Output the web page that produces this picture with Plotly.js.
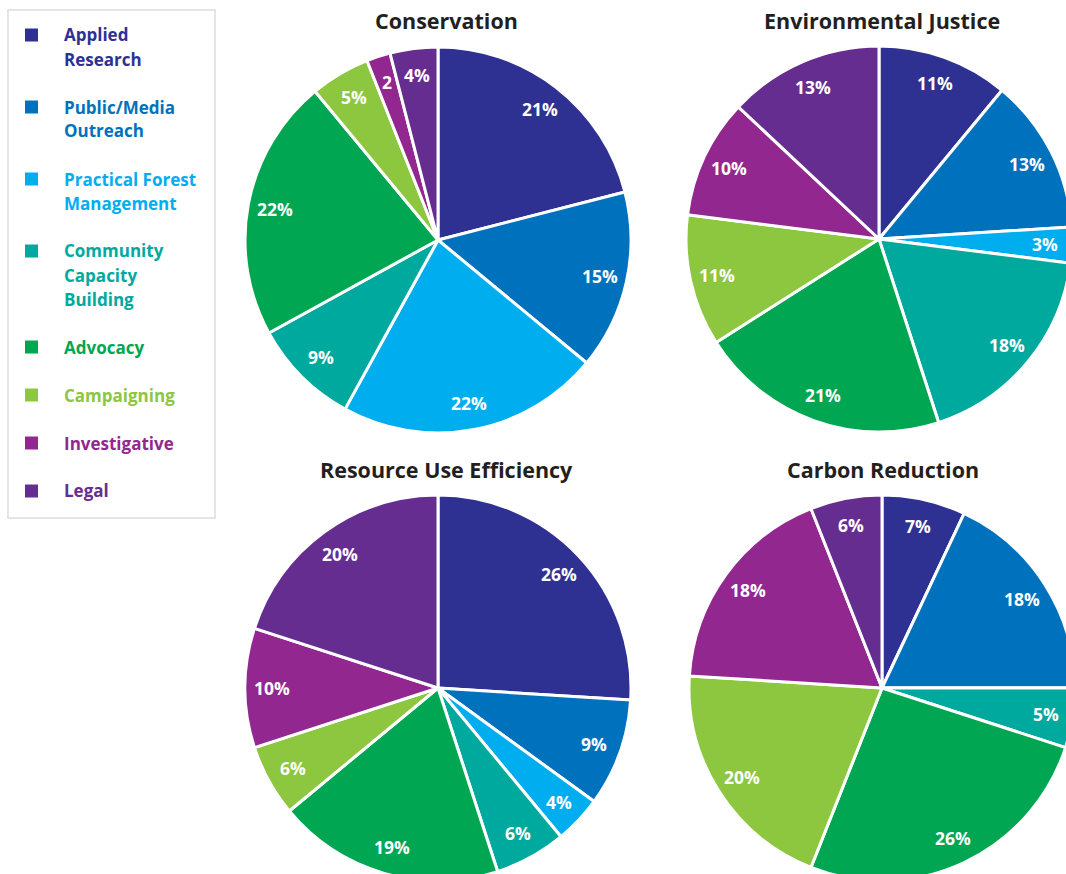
<!DOCTYPE html>
<html>
<head>
<meta charset="utf-8">
<script src="https://cdn.plot.ly/plotly-3.0.1.min.js"></script>
<style>
  html, body { margin: 0; padding: 0; overflow: hidden; background: #ffffff; }
  #chart { position: absolute; left: 0; top: 0; width: 1080px; height: 890px; }
</style>
</head>
<body>
<div id="chart"></div>
<script>
// Activity categories, in slice order (clockwise from 12 o'clock)
const categories = [
  "Applied Research",
  "Public/Media Outreach",
  "Practical Forest Management",
  "Community Capacity Building",
  "Advocacy",
  "Campaigning",
  "Investigative",
  "Legal"
];

// Legend wording, broken over lines
const legendLines = [
  ["Applied", "Research"],
  ["Public/Media", "Outreach"],
  ["Practical Forest", "Management"],
  ["Community", "Capacity", "Building"],
  ["Advocacy"],
  ["Campaigning"],
  ["Investigative"],
  ["Legal"]
];

const colors = [
  "#2e3192", "#0071bc", "#00aeef", "#00a99d",
  "#00a651", "#8dc63f", "#92278f", "#662d91"
];

// Share of work (%) per theme
const conservation          = [21, 15, 22, 9, 22, 5, 2, 4];
const environmentalJustice  = [11, 13, 3, 18, 21, 11, 10, 13];
const resourceUseEfficiency = [26, 9, 4, 6, 19, 6, 10, 20];
const carbonReduction       = [7, 18, 0, 5, 26, 20, 18, 6];

const themeTitles = ["Conservation", "Environmental Justice", "Resource Use Efficiency", "Carbon Reduction"];
const themeValues = [conservation, environmentalJustice, resourceUseEfficiency, carbonReduction];

// ---- layout geometry (pixels) ----
const W = 1080, H = 890;
const R = 193;
const pieCenters = [[438, 240], [879, 239], [438, 688], [882, 688]];
const titlePos = [[447, 20], [882, 20], [447, 469], [883, 469]];
const FONT = "'Open Sans', 'Noto Sans', sans-serif";

const fx = px => px / W;
const fy = py => 1 - py / H;

const data = [];
const annotations = [];
const shapes = [];

themeValues.forEach((vals, i) => {
  const [cx, cy] = pieCenters[i];
  data.push({
    type: "pie",
    name: themeTitles[i],
    labels: categories,
    values: vals,
    sort: false,
    direction: "clockwise",
    rotation: 0,
    textinfo: "none",
    hoverinfo: "label+percent",
    marker: { colors: colors, line: { color: "#ffffff", width: 3 } },
    domain: { x: [fx(cx - R), fx(cx + R)], y: [fy(cy + R), fy(cy - R)] },
    showlegend: false
  });

  // Percentage labels placed along each slice's mid-angle
  const total = vals.reduce((a, b) => a + b, 0);
  let cum = 0;
  vals.forEach(v => {
    if (v > 0) {
      const theta = (cum + v / 2) / total * 2 * Math.PI;
      const rr = 0.86 * R;
      const x = cx + rr * Math.sin(theta);
      const y = cy - rr * Math.cos(theta);
      // slices under 3% are too thin for the percent sign
      const txt = v < 3 ? String(v) : v + "%";
      annotations.push({
        xref: "paper", yref: "paper", x: fx(x), y: fy(y),
        xanchor: "center", yanchor: "middle", showarrow: false,
        text: "<b>" + txt + "</b>",
        font: { family: FONT, size: 17.5, color: "#ffffff" }
      });
    }
    cum += v;
  });

  annotations.push({
    xref: "paper", yref: "paper", x: fx(titlePos[i][0]), y: fy(titlePos[i][1]),
    xanchor: "center", yanchor: "middle", showarrow: false,
    text: "<b>" + themeTitles[i] + "</b>",
    font: { family: FONT, size: 21.5, color: "#231f20" }
  });
});

// ---- legend box ----
shapes.push({
  type: "rect", xref: "paper", yref: "paper",
  x0: fx(8), x1: fx(215), y0: fy(518), y1: fy(10),
  line: { color: "#e4e4e4", width: 2 }, fillcolor: "rgba(0,0,0,0)"
});

let ly = 35;
const lineGap = 24;
legendLines.forEach((lines, i) => {
  shapes.push({
    type: "rect", xref: "paper", yref: "paper",
    x0: fx(25), x1: fx(38), y0: fy(ly + 6.5), y1: fy(ly - 6.5),
    line: { width: 0 }, fillcolor: colors[i]
  });
  lines.forEach((ln, k) => {
    annotations.push({
      xref: "paper", yref: "paper", x: fx(62), y: fy(ly + k * lineGap),
      xanchor: "left", yanchor: "middle", showarrow: false,
      text: "<b>" + ln + "</b>",
      font: { family: FONT, size: 17, color: colors[i] }
    });
  });
  ly += (lines.length + 1) * lineGap;
});

const layout = {
  width: W, height: H,
  margin: { l: 0, r: 0, t: 0, b: 0 },
  paper_bgcolor: "#ffffff",
  showlegend: false,
  annotations: annotations,
  shapes: shapes
};

Plotly.newPlot("chart", data, layout, { displayModeBar: false, staticPlot: true });
</script>
</body>
</html>
